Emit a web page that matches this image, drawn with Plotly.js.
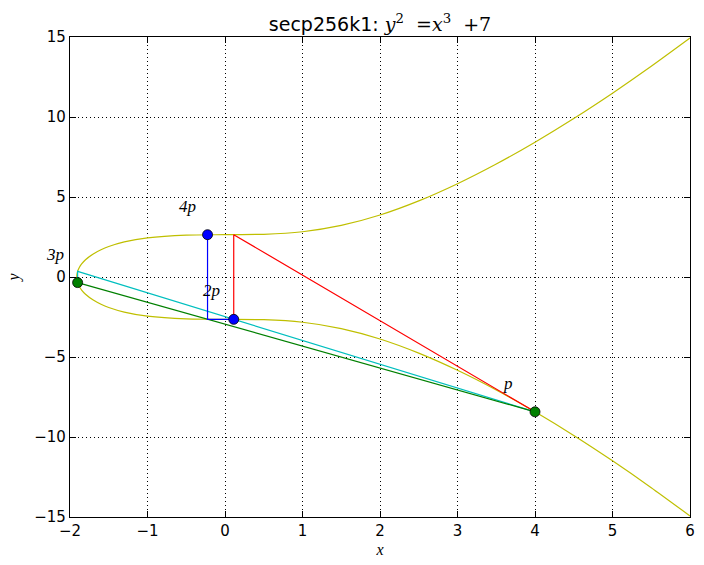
<!DOCTYPE html>
<html>
<head>
<meta charset="utf-8">
<script src="https://cdn.plot.ly/plotly-3.0.1.min.js"></script>
<style>html,body{margin:0;padding:0;background:#fff;}#chart{width:704px;height:565px;}</style>
</head>
<body>
<div id="chart"></div>
<script>
// Curve y^2 = x^3 + 7, sampled points (upper branch); lower branch listed separately
const curveX = [-1.9129, -1.912, -1.91, -1.9, -1.88, -1.85, -1.8, -1.7, -1.6, -1.5, -1.3, -1.0, -0.5, 0, 0.5, 1, 1.5, 2, 2.5, 3, 3.5, 4, 4.5, 5, 5.5, 6];
const curveYUpper = [0, 0.101, 0.179, 0.3755, 0.596, 0.8176, 1.0807, 1.4446, 1.7041, 1.9039, 2.1916, 2.4495, 2.6220, 2.6458, 2.6693, 2.8284, 3.2210, 3.8730, 4.7566, 5.8310, 7.0622, 8.4261, 9.9058, 11.4891, 13.1672, 14.9332];
const curveYLower = [0, -0.101, -0.179, -0.3755, -0.596, -0.8176, -1.0807, -1.4446, -1.7041, -1.9039, -2.1916, -2.4495, -2.6220, -2.6458, -2.6693, -2.8284, -3.2210, -3.8730, -4.7566, -5.8310, -7.0622, -8.4261, -9.9058, -11.4891, -13.1672, -14.9332];

// Construction lines
const redX = [4, 0.1127, 0.1127];
const redY = [-8.4261, 2.6460, -2.6460];
const cyanX = [4, -1.9017, -1.9017];
const cyanY = [-8.4261, 0.3493, -0.3493];
const greenX = [-1.9017, 4];
const greenY = [-0.3493, -8.4261];
const blueX = [0.1127, -0.2253, -0.2253];
const blueY = [-2.6460, -2.6435, 2.6435];

// Points
const greenPtsX = [4, -1.9017];
const greenPtsY = [-8.4261, -0.3493];
const bluePtsX = [0.1127, -0.2253];
const bluePtsY = [-2.6460, 2.6435];

// Labels (data coordinates, centre of text; 3p sits just left of the axis)
const labelText = ['4p', '3p', '2p', 'p'];
const labelX = [-0.49, -2.19, -0.17, 3.65];
const labelY = [4.4, 1.4, -0.85, -6.65];

const curveXAll = curveX.slice().reverse().concat(curveX.slice(1));
const curveYAll = curveYLower.slice().reverse().concat(curveYUpper.slice(1));

const traces = [
  {x: curveXAll, y: curveYAll, mode: 'lines', line: {color: '#bfbf00', width: 1.2, shape: 'spline', smoothing: 0.6}, hoverinfo: 'skip'},
  {x: redX, y: redY, mode: 'lines', line: {color: '#ff0000', width: 1.2}},
  {x: cyanX, y: cyanY, mode: 'lines', line: {color: '#00bfbf', width: 1.2}},
  {x: greenX, y: greenY, mode: 'lines', line: {color: '#008000', width: 1.2}},
  {x: blueX, y: blueY, mode: 'lines', line: {color: '#0000ff', width: 1.2}},
  {x: greenPtsX, y: greenPtsY, mode: 'markers', marker: {color: '#008000', size: 10, line: {color: '#000', width: 0.8}}},
  {x: bluePtsX, y: bluePtsY, mode: 'markers', marker: {color: '#0000ff', size: 10, line: {color: '#000', width: 0.8}}}
];

const xMin = -2, xMax = 6;
const annotations = labelText.map((t, i) => {
  const inside = labelX[i] >= xMin;
  const a = {
    x: inside ? labelX[i] : (labelX[i] - xMin) / (xMax - xMin),
    y: labelY[i], xref: inside ? 'x' : 'paper', yref: 'y', showarrow: false,
    text: '<i>' + t + '</i>',
    font: {family: 'Liberation Serif', size: 17, color: '#000'}
  };
  if (!inside) { a.xanchor = 'center'; a.xshift = 0; }
  return a;
});

const tickFont = {family: 'DejaVu Sans', size: 15, color: '#000'};
const layout = {
  width: 704, height: 565,
  margin: {l: 70, r: 14, t: 37, b: 48},
  paper_bgcolor: '#fff', plot_bgcolor: '#fff',
  showlegend: false,
  title: {
    text: 'secp256k1: <span style="font-family:DejaVu Serif;font-size:19px"><i>y</i><sup>2</sup>&nbsp; =<i>x</i><sup>3</sup>&nbsp; +7</span>',
    font: {family: 'DejaVu Sans', size: 19, color: '#000'},
    x: 0.5, xanchor: 'center', xref: 'paper', y: 0.957, yanchor: 'middle'
  },
  xaxis: {
    range: [xMin, xMax], tickvals: [-2, -1, 0, 1, 2, 3, 4, 5, 6],
    ticks: 'inside', ticklen: 6, tickcolor: '#000', mirror: 'allticks',
    showline: true, linecolor: '#000', linewidth: 1.2,
    showgrid: true, gridcolor: '#000', gridwidth: 1, griddash: '1px,3px',
    zeroline: false, tickfont: tickFont,
    title: {text: '<i>x</i>', font: {family: 'Liberation Serif', size: 16, color: '#000'}, standoff: 4}
  },
  yaxis: {
    range: [-15, 15], tickvals: [-15, -10, -5, 0, 5, 10, 15],
    ticks: 'inside', ticklen: 6, tickcolor: '#000', mirror: 'allticks',
    showline: true, linecolor: '#000', linewidth: 1.2,
    showgrid: true, gridcolor: '#000', gridwidth: 1, griddash: '1px,3px',
    zeroline: false, tickfont: tickFont,
    title: {text: '<i>y</i>', font: {family: 'Liberation Serif', size: 16, color: '#000'}, standoff: 10}
  },
  annotations: annotations
};

Plotly.newPlot('chart', traces, layout, {displayModeBar: false, staticPlot: true});
</script>
</body>
</html>
